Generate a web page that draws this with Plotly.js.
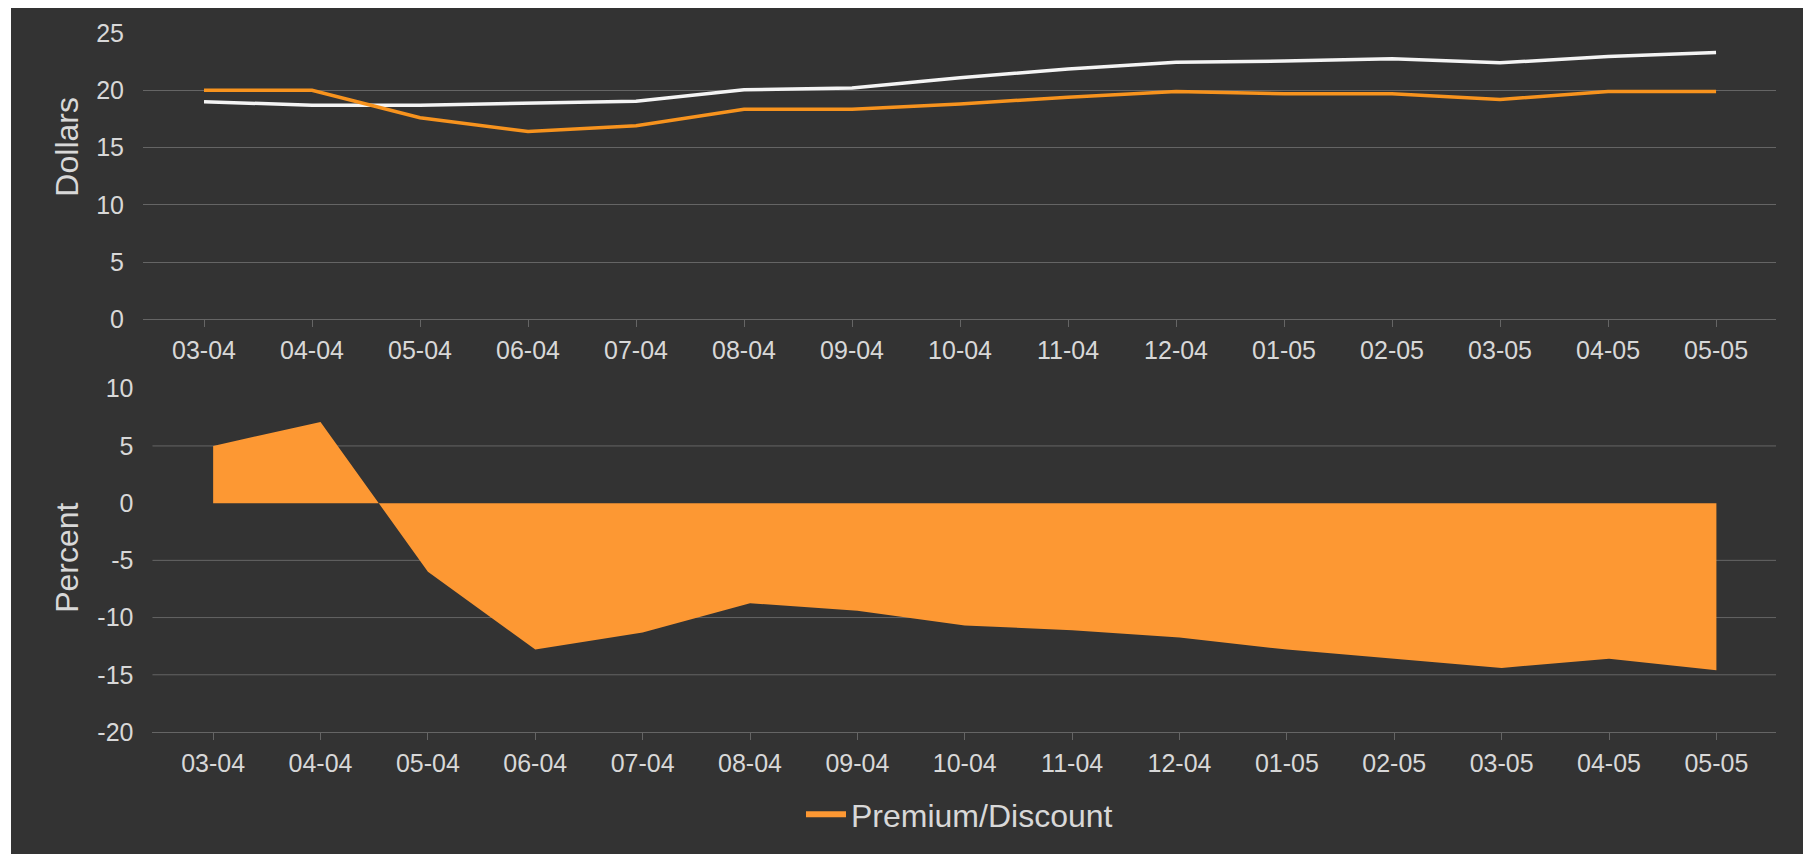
<!DOCTYPE html>
<html>
<head>
<meta charset="utf-8">
<script src="https://cdn.plot.ly/plotly-3.0.1.min.js"></script>
<style>
  html, body { margin: 0; padding: 0; background: #ffffff; width: 1803px; height: 854px; overflow: hidden; }
  #chart { position: absolute; left: 11px; top: 8px; width: 1792px; height: 846px; }
</style>
</head>
<body>
<div id="chart"></div>
<script>
const months = ["03-04","04-04","05-04","06-04","07-04","08-04","09-04","10-04","11-04","12-04","01-05","02-05","03-05","04-05","05-05"];
const navValues = [19.0, 18.7, 18.7, 18.85, 19.05, 20.05, 20.2, 21.1, 21.85, 22.45, 22.55, 22.75, 22.4, 22.95, 23.3];
const priceValues = [20.0, 20.0, 17.6, 16.4, 16.9, 18.35, 18.35, 18.8, 19.4, 19.9, 19.7, 19.7, 19.2, 19.9, 19.9];
const premiumValues = [5.0, 7.1, -6.0, -12.8, -11.3, -8.75, -9.4, -10.7, -11.1, -11.75, -12.8, -13.6, -14.4, -13.6, -14.6];
const dollarTicks = [0, 5, 10, 15, 20, 25];
const percentTicks = [-20, -15, -10, -5, 0, 5, 10];
const percentTickText = ["-20", "-15", "-10", "-5", "0", "5", "10"];
const percentGrid = [5, -5, -10, -15];

const tickFont = { family: "Liberation Sans, Arial, sans-serif", size: 25, color: "#d8d8d8" };
const titleFont = { family: "Liberation Sans, Arial, sans-serif", size: 32, color: "#d8d8d8" };
const gridColor = "#656565";

const traces = [
  { x: months, y: navValues, type: "scatter", mode: "lines", xaxis: "x", yaxis: "y",
    line: { color: "#f4f4f4", width: 3.5 }, showlegend: false, hoverinfo: "skip" },
  { x: months, y: priceValues, type: "scatter", mode: "lines", xaxis: "x", yaxis: "y",
    line: { color: "#f7931e", width: 3.5 }, showlegend: false, hoverinfo: "skip" },
  { x: months, y: premiumValues, type: "scatter", mode: "none", fill: "tozeroy", name: "Premium/Discount",
    xaxis: "x2", yaxis: "y2", fillcolor: "#fd9833" }
];

const xCommon = {
  type: "category", range: [-0.565, 14.555], showgrid: false, zeroline: false,
  showline: true, linecolor: gridColor, linewidth: 1,
  ticks: "outside", ticklen: 7, tickcolor: gridColor, tickfont: tickFont, ticklabelstandoff: 2
};

const shapes = percentGrid.map(v => ({
  type: "line", xref: "x2 domain", x0: 0, x1: 1, yref: "y2", y0: v, y1: v,
  line: { color: gridColor, width: 1 }, layer: "below"
}));

const layout = {
  width: 1792, height: 846,
  paper_bgcolor: "#333333", plot_bgcolor: "#333333",
  margin: { l: 132, r: 27, t: 25, b: 116.3 },
  showlegend: true,
  legend: { x: 0.5, xanchor: "center", y: -0.118, yanchor: "middle", orientation: "h",
            font: titleFont, bgcolor: "rgba(0,0,0,0)", itemwidth: 40 },
  xaxis: Object.assign({}, xCommon, { anchor: "y", domain: [0, 1] }),
  xaxis2: Object.assign({}, xCommon, { anchor: "y2", domain: [0.0058, 1] }),
  yaxis: { anchor: "x", domain: [0.5903, 1], range: [0, 25], tickvals: dollarTicks, showgrid: true, gridcolor: gridColor,
           zeroline: false, showline: false, ticks: "", tickfont: tickFont, ticklabelstandoff: 18 },
  yaxis2: { anchor: "x2", domain: [0, 0.4911], range: [-20, 10], tickvals: percentTicks, ticktext: percentTickText,
            showgrid: false, zeroline: false, showline: false, ticks: "", tickfont: tickFont, ticklabelstandoff: 18 },
  shapes: shapes,
  annotations: [
    { text: "Dollars", xref: "paper", yref: "paper", x: -0.0462, y: 0.8368, xanchor: "center", yanchor: "middle",
      textangle: -90, showarrow: false, font: titleFont },
    { text: "Percent", xref: "paper", yref: "paper", x: -0.0462, y: 0.2486, xanchor: "center", yanchor: "middle",
      textangle: -90, showarrow: false, font: titleFont }
  ]
};

Plotly.newPlot("chart", traces, layout, { displayModeBar: false, staticPlot: true });
</script>
</body>
</html>
